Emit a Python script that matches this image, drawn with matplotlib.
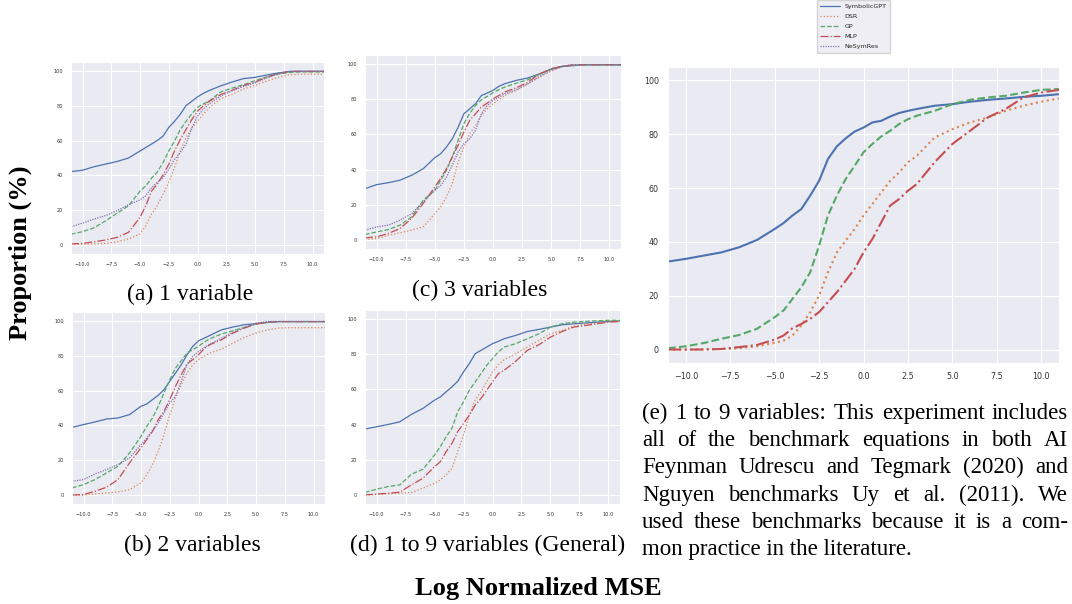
import numpy as np
import matplotlib
matplotlib.use("Agg")
import matplotlib.pyplot as plt
import seaborn as sns

sns.set_style("darkgrid")
plt.rcParams['font.family'] = ['DejaVu Sans']

# x grid (log normalized MSE) for panels a-d and for panel e
x_small = [-11, -10, -9, -8, -7, -6, -5, -4.5, -4, -3.5, -3, -2.5, -2, -1.5, -1, -0.5,
           0, 0.5, 1, 2, 3, 4, 5, 6, 7, 8, 9, 10, 11]
x_big = [-11, -10, -9, -8, -7, -6, -5, -4.5, -4, -3.5, -3, -2.5, -2, -1.5, -1, -0.5,
         0, 0.5, 1, 1.5, 2, 2.5, 3, 4, 5, 6, 7, 8, 9, 10, 11]

methods = ["SymbolicGPT", "DSR", "GP", "MLP", "NeSymRes"]

# (a) 1 variable
sgpt_a = [42.2, 43, 45, 46.5, 48, 50, 54, 56, 58, 60, 62.5, 67.5, 71, 75, 80, 82.5, 85, 87, 88.6, 91.3, 93.5, 95.5, 96.2, 97.5, 98.7, 99.6, 99.7, 99.7, 99.7]
dsr_a = [0.4, 0.6, 0.8, 1.1, 2, 3.6, 6.5, 11.2, 17.9, 22.6, 29.3, 36, 44.5, 54, 61.6, 67.3, 71, 75, 78.7, 84, 86.5, 89.5, 91.6, 94, 96.2, 97.7, 98, 98, 98]
gp_a = [6.3, 7.8, 10, 14, 18.3, 22.6, 31, 34, 38.4, 42, 47.3, 54, 59.7, 66.3, 71, 75.3, 79, 81, 82.5, 87.8, 90, 92, 94.3, 96.4, 98, 99, 99.3, 99.3, 99.3]
mlp_a = [0.8, 1.1, 2, 3, 4.5, 7.4, 16, 22.6, 31, 35, 40.3, 46.4, 54, 60.6, 66.3, 72, 76.8, 79.7, 82.5, 86.3, 88.8, 91.5, 93.5, 96.2, 98.3, 99.6, 99.6, 99.6, 99.6]
nsr_a = [10.6, 12.7, 15, 17, 19.8, 23.2, 26, 28.3, 33, 36, 38.8, 43.5, 49.2, 53, 58, 67, 74, 77.8, 81, 85.4, 88.5, 91, 93, 95.8, 98.3, 99.6, 99.6, 99.6, 99.6]

# (b) 2 variables
sgpt_b = [38.9, 40.5, 42, 43.7, 44.3, 46.2, 51, 52.3, 54.8, 57.3, 60.5, 65.3, 70, 74.8, 80.5, 85.3, 88.5, 90, 91.6, 94.8, 96.4, 97.7, 98.3, 99, 99.5, 99.5, 99.5, 99.5, 99.5]
dsr_b = [0, 0.2, 0.8, 1.3, 1.9, 3.2, 7.1, 11.8, 17.6, 25.2, 34.7, 46.2, 55.7, 63.4, 70, 74.8, 77.7, 79.6, 81.5, 83.8, 87.2, 90.5, 92.9, 94.8, 95.8, 96, 96, 96, 96]
gp_b = [4.2, 6.1, 9, 12.8, 16.6, 24.2, 33.8, 39.5, 44.3, 51, 58.6, 66.2, 72.9, 77.1, 81.5, 83.4, 85.3, 87.8, 89.7, 92.4, 94.3, 96.2, 98.1, 99, 99.5, 99.5, 99.5, 99.5, 99.5]
mlp_b = [0.2, 0.4, 2.3, 4.6, 9, 18.5, 27.1, 31.9, 36.6, 43.3, 48.1, 54.8, 62.4, 69.1, 75.2, 77.7, 80.5, 84, 86.3, 89.1, 92.9, 95.8, 98.1, 99.2, 99.5, 99.5, 99.5, 99.5, 99.5]
nsr_b = [8, 9, 12.2, 14.7, 17.6, 21.4, 29, 32.8, 37, 41.4, 47.1, 52.9, 56.7, 65.3, 74.8, 79.6, 82.4, 84.7, 86.6, 90, 93.5, 96.2, 98.7, 99.6, 99.6, 99.6, 99.6, 99.6, 99.6]

# (c) 3 variables
sgpt_c = [29.2, 31.5, 32.6, 34, 36.8, 40.5, 46.8, 49, 52.8, 57.5, 64, 71.7, 74.5, 77.4, 82, 83.4, 85, 87.2, 88.7, 90.6, 92, 94.3, 96.8, 98.5, 99, 99.5, 99.5, 99.5, 99.5]
dsr_c = [0.4, 0.9, 2.8, 4.2, 5.7, 7.5, 15, 18.9, 24.5, 32, 44.3, 52.8, 60.4, 65, 70.8, 74.5, 77.4, 79.6, 82, 85, 88.7, 92.5, 95.8, 98.5, 99.3, 99.3, 99.3, 99.3, 99.3]
gp_c = [3.2, 4.7, 6, 8.5, 13.2, 22.6, 28.3, 34, 39.6, 47.2, 56.6, 66, 72, 76.4, 79.6, 81.5, 83.6, 85.3, 86.8, 89, 91, 94, 97.2, 98.7, 99.3, 99.3, 99.3, 99.3, 99.3]
mlp_c = [1.3, 1.9, 3.8, 6.6, 12.3, 20.8, 30.2, 35, 40.6, 47.2, 53.8, 61.3, 68, 71.7, 75.5, 77.7, 80.2, 82, 84, 86.4, 89.6, 94.3, 97.2, 98.7, 99.5, 99.5, 99.5, 99.5, 99.5]
nsr_c = [5.7, 7.5, 8.5, 11.3, 15, 21.7, 28.3, 31, 35.8, 42.5, 50, 54.7, 57.5, 62.3, 71.7, 76.4, 79.2, 81, 83, 85.3, 88.7, 92.8, 96.6, 98.9, 99.5, 99.5, 99.5, 99.5, 99.5]

# (d) 1 to 9 variables (General)
sgpt_d = [37.5, 38.8, 40.1, 41.6, 45.8, 49.2, 53.9, 55.7, 58.6, 61.4, 64.6, 69.9, 74.6, 80.2, 82.1, 84, 85.9, 87.2, 88.7, 90.6, 92.8, 94, 95.3, 96.6, 97.2, 97.6, 98.1, 98.5, 98.8]
dsr_d = [0, 0.4, 0.8, 1.1, 1.5, 4, 6.8, 8.7, 11.5, 15.3, 24.7, 34.1, 45.4, 53.9, 58.6, 64.2, 69.9, 74, 76.8, 80.2, 84, 87.8, 91.5, 93.4, 95.9, 97, 97.6, 98.5, 98.8]
gp_d = [1.5, 3.4, 4.9, 5.8, 11.9, 14.7, 22.8, 27.5, 33.1, 37.9, 47.3, 52.9, 59.5, 64.2, 68.9, 73.6, 77.4, 81.2, 84, 85.9, 88.7, 91.5, 95.3, 97.2, 98.1, 98.5, 98.9, 99.2, 99.2]
mlp_d = [0.2, 0.6, 1.1, 1.7, 5.8, 9.6, 16.2, 19, 24.7, 29.4, 36, 40.7, 45.4, 51, 54.8, 59.5, 64.2, 68.9, 70.8, 75.9, 82.1, 85.3, 89.6, 92.8, 95.3, 96.2, 97.2, 98.1, 98.5]

# (e) 1 to 9 variables
sgpt_e = [32.7, 33.7, 34.9, 36.1, 38, 40.7, 44.8, 47, 49.8, 52.2, 57.2, 62.7, 70.8, 75.5, 78.5, 81, 82.5, 84.4, 85, 86.6, 87.9, 88.7, 89.4, 90.6, 91.2, 92.1, 92.8, 93.3, 93.9, 94.3, 94.9]
dsr_e = [0, 0, 0.1, 0.2, 0.5, 1.2, 2.5, 3.3, 5.2, 8.9, 13.9, 20, 28.7, 36.1, 40.5, 44.8, 49.8, 54.1, 58.4, 62.7, 65.8, 69.6, 72, 78.8, 81.9, 84.4, 86.3, 88.7, 90.6, 92.1, 93.3]
gp_e = [0.5, 1.2, 2.4, 4, 5.4, 7.7, 12, 14.5, 18.8, 23.1, 28.7, 38.6, 49.8, 57.2, 63.4, 68.3, 73.3, 76.4, 79.2, 81.3, 83.8, 85.6, 86.9, 88.7, 91.2, 92.8, 93.7, 94.3, 95.5, 96.5, 96.8]
mlp_e = [0, 0, 0, 0.2, 0.9, 1.7, 3.7, 5.2, 7.9, 9.5, 11.4, 13.9, 17.6, 21.3, 25.6, 30, 36.1, 41.1, 47.3, 53.5, 55.9, 59, 61.5, 69.6, 76.4, 81.3, 86.3, 89.4, 93.7, 95.5, 96.5]

caption_e = ["(e) 1 to 9 variables: This experiment includes",
             "all of the benchmark equations in both AI",
             "Feynman Udrescu and Tegmark (2020) and",
             "Nguyen benchmarks Uy et al. (2011).  We",
             "used these benchmarks because it is a com-",
             "mon practice in the literature."]

colors = {"SymbolicGPT": "#4C72B0", "DSR": "#DD8452", "GP": "#55A868",
          "MLP": "#C44E52", "NeSymRes": "#8172B3"}
styles = {"SymbolicGPT": "-", "DSR": ":", "GP": "--", "MLP": "-.",
          "NeSymRes": (0, (1, 1))}

W, H = 1072, 604
fig = plt.figure(figsize=(W / 100, H / 100), dpi=100)


def box(l, t, r, b):
    return [l / W, 1 - b / H, (r - l) / W, (b - t) / H]


def panel(rect, x, series, lw, fs, pad):
    ax = fig.add_axes(rect)
    for name, y in series:
        ax.plot(x, y, color=colors[name], linestyle=styles[name], lw=lw, label=name)
    ax.set_xlim(-11, 11)
    ax.set_ylim(-5, 105)
    ax.set_xticks(np.arange(-10, 10.1, 2.5))
    ax.set_yticks(range(0, 101, 20))
    ax.tick_params(labelsize=fs, pad=pad, colors=".2")
    return ax


ax_a = panel(box(71, 62, 324, 254), x_small,
             [("SymbolicGPT", sgpt_a), ("DSR", dsr_a), ("GP", gp_a),
              ("MLP", mlp_a), ("NeSymRes", nsr_a)], 0.9, 3.6, 2)
panel(box(72, 312, 325, 504), x_small,
      [("SymbolicGPT", sgpt_b), ("DSR", dsr_b), ("GP", gp_b),
       ("MLP", mlp_b), ("NeSymRes", nsr_b)], 0.9, 3.6, 2)
panel(box(365, 55, 621, 249), x_small,
      [("SymbolicGPT", sgpt_c), ("DSR", dsr_c), ("GP", gp_c),
       ("MLP", mlp_c), ("NeSymRes", nsr_c)], 0.9, 3.6, 2)
panel(box(365, 310, 620, 504), x_small,
      [("SymbolicGPT", sgpt_d), ("DSR", dsr_d), ("GP", gp_d),
       ("MLP", mlp_d)], 0.9, 3.6, 2)
panel(box(668, 67, 1059, 363), x_big,
      [("SymbolicGPT", sgpt_e), ("DSR", dsr_e), ("GP", gp_e),
       ("MLP", mlp_e)], 1.5, 5.8, 3)

handles, labels = ax_a.get_legend_handles_labels()
fig.legend(handles, labels, loc="upper center", bbox_to_anchor=(853.5 / W, 1.0),
           fontsize=4.6, handlelength=3, borderpad=0.6, labelspacing=0.7,
           borderaxespad=0)

serif = dict(family="Liberation Serif", fontsize=17, color="black")
fig.text(190 / W, 1 - 294 / H, "(a) 1 variable", ha="center", va="center", **serif)
fig.text(480 / W, 1 - 290 / H, "(c) 3 variables", ha="center", va="center", **serif)
fig.text(192 / W, 1 - 545 / H, "(b) 2 variables", ha="center", va="center", **serif)
fig.text(488 / W, 1 - 545 / H, "(d) 1 to 9 variables (General)", ha="center", va="center", **serif)
fig.text(20 / W, 1 - 253 / H, "Proportion (%)", rotation=90, ha="center", va="center",
         family="Liberation Serif", fontsize=19, fontweight="bold", color="black")
fig.text(538 / W, 1 - 588 / H, "Log Normalized MSE", ha="center", va="center",
         family="Liberation Serif", fontsize=19, fontweight="bold", color="black")

# justified caption for panel (e)
cap = dict(serif, fontsize=16.5)
renderer = fig.canvas.get_renderer()
left, right = 642, 1068
for i, line in enumerate(caption_e):
    yb = 1 - (419 + 27.2 * i) / H
    if i == len(caption_e) - 1:
        fig.text(left / W, yb, line, ha="left", va="baseline", **cap)
        continue
    words = line.split()
    texts = [fig.text(0, yb, w, ha="left", va="baseline", **cap) for w in words]
    widths = [t.get_window_extent(renderer).width for t in texts]
    gap = (right - left - sum(widths)) / (len(words) - 1)
    x = left
    for t, w in zip(texts, widths):
        t.set_x(x / W)
        x += w + gap

fig.savefig("out.png", dpi=100)
